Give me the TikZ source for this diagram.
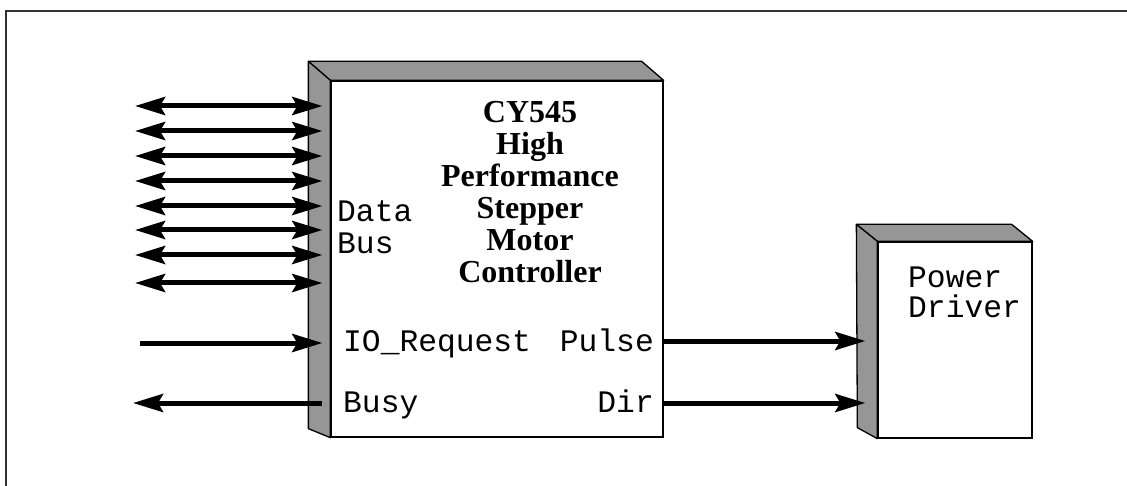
\documentclass[tikz,border=0pt]{standalone}
\usepackage{fontspec}
\setmainfont{Liberation Serif}
\setmonofont{Liberation Mono}
\usetikzlibrary{arrows.meta,calc}
\definecolor{slabgray}{RGB}{150,150,150}
\definecolor{framegray}{RGB}{50,50,50}

\begin{document}
\begin{tikzpicture}[x=1pt,y=-1pt,
  blk/.style={draw,fill=white,line width=1.3pt,inner sep=0pt},
  slab/.style={draw,fill=slabgray,line width=1.3pt,line join=round},
  lbl/.style={font=\fontsize{31.3}{30}\selectfont\ttfamily,inner sep=0pt},
  ttl/.style={font=\fontsize{32}{32}\selectfont\bfseries,align=center,inner sep=0pt},
  bus/.style={line width=5pt,{Stealth[length=30pt,width=18pt,inset=5pt]}-{Stealth[length=30pt,width=18pt,inset=5pt]}},
  sig/.style={line width=5pt,-{Stealth[length=30pt,width=18pt,inset=5pt]}}]
  \useasboundingbox (0,0) rectangle (1127,486);
  % outer frame (left and top edges only)
  \draw[line width=2.5pt,framegray] (6,486) -- (6,11) -- (1127,11);
  % controller block with top and left faces
  \node[blk,minimum width=332pt,minimum height=356pt] (ctrl) at (497,259) {};
  \draw[slab] (ctrl.north west) -- ++(-22,-19) -- ($(ctrl.north east)+(-22,-19)$) -- (ctrl.north east) -- cycle;
  \draw[slab] (ctrl.north west) -- ++(-22,-19) -- ($(ctrl.south west)+(-22,-9)$) -- (ctrl.south west) -- cycle;
  % power driver block
  \node[blk,minimum width=154pt,minimum height=196pt] (pwr) at (955,340) {};
  \draw[slab] (pwr.north west) -- ++(-21,-17) -- ($(pwr.north east)+(-21,-17)$) -- (pwr.north east) -- cycle;
  \draw[slab] (pwr.north west) -- ++(-21,-17) -- ($(pwr.south west)+(-20,-11)$) -- (pwr.south west) -- cycle;
  % data bus lines
  \foreach \y [count=\i] in {106,131,156,181,206,230,255,283} {
    \coordinate (d\i) at (135,\y);
    \draw[bus,shorten >=8pt] (d\i) -- (d\i -| ctrl.west);
  }
  % control lines
  \coordinate (req) at (140,343);
  \draw[sig,shorten >=8pt] (req) -- (req -| ctrl.west);
  \coordinate (bsy) at (133,403);
  \draw[sig,shorten <=8pt] (bsy -| ctrl.west) -- (bsy);
  \coordinate (pls) at (760,341);
  \draw[sig,shorten >=12pt] (ctrl.east |- pls) -- (pwr.west |- pls);
  \coordinate (dir) at (760,403);
  \draw[sig,shorten >=12pt] (ctrl.east |- dir) -- (pwr.west |- dir);
  % texts
  \node[ttl,anchor=base] (name) at (530,283) {CY545\\High\\Performance\\Stepper\\Motor\\Controller};
  \node[lbl,anchor=base west] (data) at (337,222) {Data};
  \node[lbl,anchor=base west] (bust) at (337,254) {Bus};
  \node[lbl,anchor=base west] (reqt) at (343,352) {IO\_Request};
  \node[lbl,anchor=base east] (plst) at (654,352) {Pulse};
  \node[lbl,anchor=base west] (bsyt) at (343,412) {Busy};
  \node[lbl,anchor=base east] (dirt) at (654,412) {Dir};
  \node[lbl,anchor=base west] (pw1) at (908,288) {Power};
  \node[lbl,anchor=base west] (pw2) at (908,317) {Driver};
\end{tikzpicture}
\end{document}
